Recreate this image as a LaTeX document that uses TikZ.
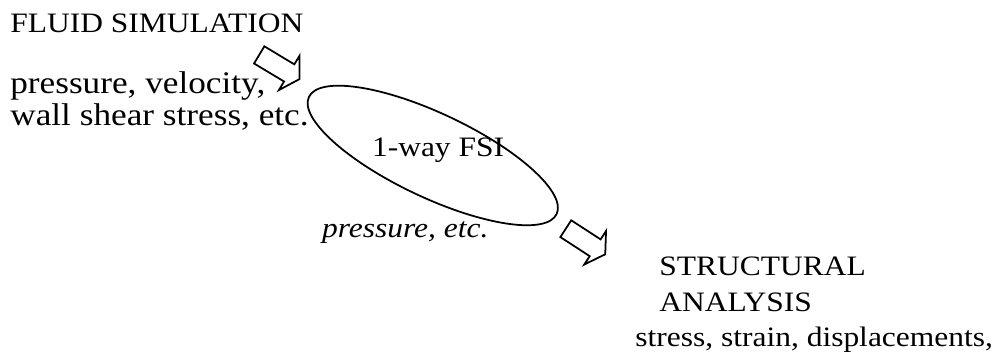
\documentclass[tikz,border=0pt]{standalone}
\usepackage{graphicx}
\usepackage{fontspec}
\setmainfont{Liberation Serif}
% text is set slightly wide
\newcommand{\widetext}[1]{\scalebox{1.12}[1]{#1}}
\begin{document}
\begin{tikzpicture}[x=0.02cm,y=0.02cm,
  txt/.style={inner sep=0pt, anchor=base west, font=\fontsize{16}{19}\selectfont},
  bigtxt/.style={inner sep=0pt, anchor=base west, font=\fontsize{17.9}{21}\selectfont},
  outline/.style={draw=black, line width=1pt, line join=miter},
  blockarrow/.pic={
    \draw[outline, fill=white] (0,-10) -- (35,-10) -- (35,-20) -- (47,0)
      -- (35,20) -- (35,10) -- (0,10) -- cycle;}
]
\useasboundingbox (0,0) rectangle (1000,-358);

% fluid side
\node[txt] (fluid) at (10,-33) {\widetext{FLUID SIMULATION}};
\node[bigtxt] (fluidA) at (10,-93.5) {\widetext{pressure, velocity,}};
\node[bigtxt] (fluidB) at (10,-125) {\widetext{wall shear stress, etc.}};

% coupling step
\coordinate (ringc) at (432.8,-155.5);
\draw[outline, rotate around={-25.3:(ringc)}] (ringc) ellipse [x radius=137, y radius=42];
\node[txt] (fsi) at (371.7,-156) {\widetext{1-way FSI}};
\node[txt, font=\fontsize{16}{19}\selectfont\itshape] (transfer) at (321.7,-237.5) {\widetext{pressure, etc.}};

% block arrows
\pic[rotate=-31] at (259.2,-54.9) {blockarrow};
\pic[rotate=-33] at (565.8,-228.7) {blockarrow};

% structural side
\node[txt] (structA) at (659,-275) {\widetext{STRUCTURAL}};
\node[txt] (structB) at (659,-311.7) {\widetext{ANALYSIS}};
\node[txt] (structC) at (635,-346.7) {\widetext{stress, strain, displacements,}};
\end{tikzpicture}
\end{document}
